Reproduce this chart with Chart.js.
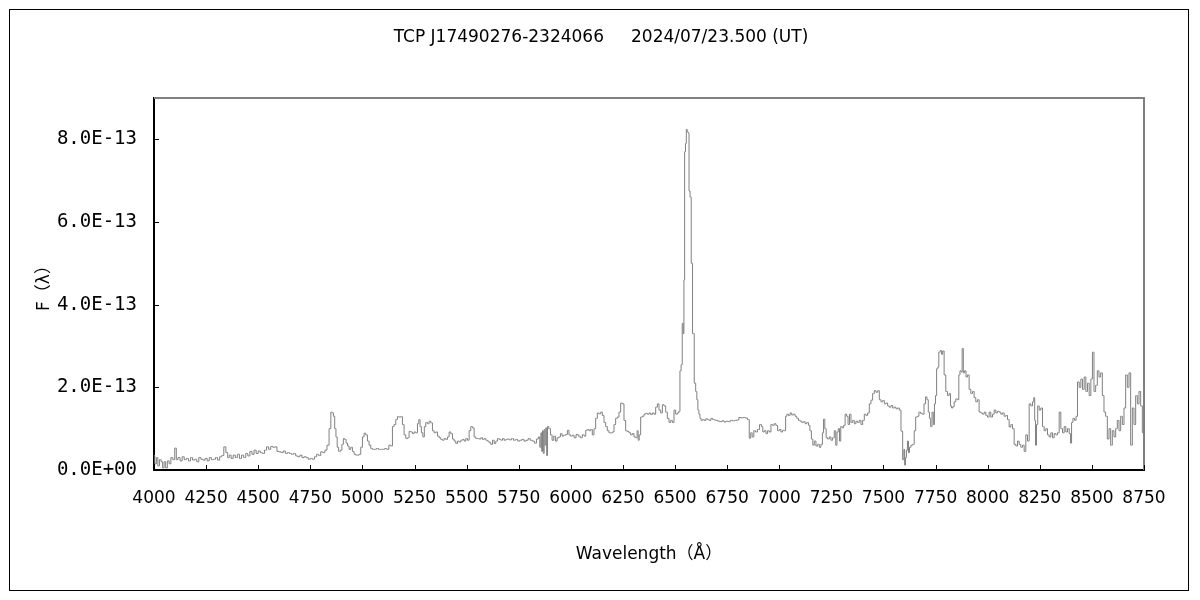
<!DOCTYPE html>
<html>
<head>
<meta charset="utf-8">
<script src="https://cdn.jsdelivr.net/npm/chart.js@4"></script>
<style>
  html, body { margin: 0; padding: 0; background: #fff; }
</style>
</head>
<body>
<canvas id="specChart" width="1200" height="600"></canvas>
<script>
// spectrum, flux in units of 1E-13
const wavelength = [
  4000,4008,4015,4022,4030,4038,4045,4052,4060,4068,4077,4085,4095,4104,4110,4120,4130,4140,4150,4160,
  4170,4180,4190,4200,4210,4220,4230,4240,4250,4260,4270,4280,4290,4300,4310,4320,4330,4340,4350,4357,
  4365,4375,4385,4395,4405,4415,4425,4435,4445,4455,4465,4475,4485,4495,4505,4515,4525,4535,4545,4555,
  4565,4575,4585,4595,4605,4615,4625,4635,4645,4655,4665,4675,4685,4695,4705,4715,4725,4735,4745,4755,
  4765,4775,4785,4795,4805,4815,4825,4835,4845,4852,4858,4864,4870,4876,4882,4890,4898,4905,4912,4918,
  4925,4932,4940,4948,4956,4964,4972,4980,4988,4996,5004,5012,5020,5028,5036,5044,5052,5062,5072,5082,
  5092,5102,5112,5122,5132,5140,5148,5156,5164,5172,5180,5188,5196,5204,5212,5220,5228,5236,5244,5252,
  5260,5268,5273,5280,5286,5294,5300,5308,5316,5324,5332,5340,5348,5356,5364,5372,5380,5388,5396,5404,
  5412,5420,5428,5436,5444,5452,5460,5468,5476,5484,5492,5500,5508,5516,5524,5532,5540,5548,5556,5564,
  5572,5580,5588,5596,5604,5612,5620,5628,5636,5644,5652,5660,5668,5676,5684,5692,5700,5710,5720,5730,
  5740,5750,5760,5770,5780,5790,5800,5810,5820,5830,5840,5848,5854,5858,5862,5866,5870,5874,5878,5882,
  5886,5890,5898,5906,5914,5922,5930,5938,5946,5954,5962,5970,5980,5987,5995,6003,6011,6020,6030,6040,
  6050,6060,6068,6075,6083,6091,6099,6107,6115,6123,6131,6139,6147,6155,6163,6171,6179,6187,6195,6203,
  6211,6219,6227,6235,6243,6251,6259,6267,6275,6283,6291,6299,6307,6315,6321,6325,6331,6339,6347,6355,
  6363,6371,6379,6387,6395,6403,6411,6419,6427,6435,6443,6451,6459,6467,6475,6483,6491,6499,6507,6515,
  6521,6526,6532,6537,6541,6544,6548,6552,6556,6561,6565,6569,6575,6580,6588,6596,6602,6607,6612,6617,
  6622,6628,6636,6644,6652,6660,6668,6676,6684,6692,6700,6710,6720,6730,6740,6750,6760,6770,6780,6790,
  6800,6812,6822,6832,6842,6852,6860,6866,6874,6882,6890,6900,6911,6918,6924,6932,6940,6948,6956,6964,
  6972,6980,6988,6996,7004,7012,7020,7028,7033,7040,7048,7056,7064,7072,7080,7088,7096,7104,7112,7120,
  7128,7136,7144,7150,7158,7164,7172,7180,7188,7196,7204,7210,7215,7222,7228,7236,7244,7252,7260,7268,
  7274,7280,7286,7292,7298,7306,7312,7320,7326,7334,7340,7348,7356,7364,7372,7380,7388,7396,7404,7412,
  7420,7428,7436,7444,7452,7460,7468,7476,7484,7492,7500,7508,7516,7524,7532,7540,7548,7556,7564,7572,
  7580,7588,7596,7600,7603,7608,7612,7618,7622,7628,7636,7644,7651,7658,7666,7674,7682,7690,7699,7705,
  7712,7718,7723,7730,7736,7742,7747,7752,7758,7763,7768,7775,7781,7787,7795,7803,7811,7819,7824,7830,
  7835,7843,7851,7859,7864,7870,7875,7880,7886,7892,7900,7907,7915,7923,7931,7939,7947,7955,7963,7971,
  7979,7987,7995,8003,8011,8019,8027,8035,8043,8051,8059,8067,8075,8083,8091,8099,8107,8115,8123,8131,
  8139,8147,8155,8163,8171,8179,8187,8195,8203,8211,8219,8223,8228,8231,8237,8243,8251,8259,8267,8275,
  8283,8291,8299,8307,8315,8323,8331,8339,8347,8355,8363,8371,8379,8387,8395,8400,8405,8413,8421,8427,
  8435,8443,8451,8459,8467,8475,8483,8491,8499,8506,8514,8522,8530,8538,8546,8554,8562,8570,8578,8586,
  8594,8602,8610,8618,8626,8634,8642,8650,8658,8666,8674,8682,8690,8698,8706,8714,8722,8730,8738,8746,
  8750
];
const flux = [
  0.35,0.15,0.30,0.10,0.25,0.20,0.05,0.20,0.05,0.22,0.15,0.30,0.25,0.53,0.25,0.30,0.22,0.32,0.25,0.28,
  0.22,0.30,0.24,0.26,0.20,0.30,0.26,0.24,0.28,0.22,0.30,0.25,0.26,0.30,0.24,0.32,0.35,0.56,0.42,0.30,
  0.36,0.28,0.36,0.30,0.38,0.28,0.36,0.30,0.40,0.34,0.45,0.38,0.48,0.40,0.46,0.42,0.40,0.48,0.56,0.50,
  0.57,0.55,0.56,0.45,0.44,0.42,0.46,0.40,0.42,0.40,0.38,0.40,0.34,0.32,0.36,0.30,0.32,0.30,0.26,0.28,
  0.26,0.32,0.38,0.35,0.44,0.42,0.48,0.60,1.00,1.40,1.38,1.30,1.00,0.80,0.55,0.45,0.48,0.62,0.76,0.74,
  0.65,0.58,0.50,0.55,0.45,0.38,0.36,0.36,0.38,0.55,0.80,0.89,0.85,0.70,0.60,0.52,0.50,0.50,0.52,0.50,
  0.50,0.50,0.52,0.50,0.60,0.58,1.05,1.10,1.22,1.29,1.28,1.29,1.10,0.85,0.76,0.78,0.93,0.92,0.88,0.92,
  0.90,1.12,1.22,1.05,0.90,0.80,1.05,1.15,1.12,1.18,1.14,0.95,0.90,0.92,0.82,0.78,0.74,0.72,0.76,0.74,
  0.80,0.92,0.88,0.75,0.70,0.64,0.70,0.68,0.72,0.74,0.70,0.76,0.72,0.95,1.05,1.02,0.80,0.76,0.76,0.75,
  0.78,0.74,0.76,0.72,0.70,0.66,0.62,0.72,0.64,0.70,0.76,0.74,0.72,0.76,0.72,0.74,0.75,0.73,0.76,0.72,
  0.74,0.70,0.72,0.74,0.70,0.72,0.76,0.72,0.70,0.65,0.75,0.80,0.55,0.90,0.45,0.95,0.40,0.98,0.60,1.02,
  0.35,1.05,1.00,0.85,0.72,0.82,0.70,0.78,0.80,0.88,0.82,0.84,0.86,0.96,0.85,0.82,0.84,0.78,0.86,0.82,
  0.78,0.85,0.82,0.96,0.98,0.95,0.98,0.85,1.00,1.25,1.38,1.36,1.40,1.32,1.15,1.05,0.95,0.90,0.90,0.92,
  1.10,1.25,1.28,1.40,1.62,1.60,1.20,0.95,0.93,0.90,0.85,0.88,0.80,0.78,0.95,0.72,0.85,1.28,1.30,1.35,
  1.37,1.35,1.38,1.34,1.38,1.35,1.52,1.60,1.45,1.38,1.58,1.55,1.40,1.25,1.15,1.20,1.15,1.45,1.35,1.38,
  1.42,2.40,2.55,3.55,3.30,4.60,7.70,7.90,8.24,8.18,8.15,6.75,6.60,5.00,3.30,2.10,1.90,1.70,1.45,1.35,
  1.25,1.20,1.22,1.20,1.24,1.22,1.20,1.25,1.22,1.21,1.20,1.18,1.17,1.19,1.16,1.18,1.17,1.20,1.19,1.20,
  1.21,1.27,1.26,1.27,1.26,1.22,0.77,0.90,0.80,0.95,0.92,0.98,1.10,1.05,0.92,0.95,0.88,0.95,0.92,1.10,
  1.08,1.12,1.08,0.95,0.98,0.92,0.96,0.95,1.30,1.35,1.32,1.38,1.33,1.35,1.30,1.25,1.20,1.18,1.15,1.17,
  1.12,1.15,1.08,0.95,0.75,0.60,0.70,0.58,0.62,0.55,0.62,0.90,1.23,1.00,0.78,0.75,0.80,0.72,0.78,0.95,
  0.60,0.92,1.00,0.70,1.05,1.02,1.08,1.35,1.30,1.10,1.35,1.15,1.20,1.12,1.18,1.15,1.20,1.10,1.20,1.35,
  1.32,1.38,1.60,1.69,1.85,1.92,1.88,1.92,1.70,1.65,1.68,1.60,1.62,1.55,1.52,1.56,1.50,1.52,1.48,1.50,
  1.45,0.94,0.25,0.50,0.12,0.30,0.48,0.70,0.42,0.55,0.60,0.62,0.95,1.28,1.30,1.40,1.37,1.35,1.60,1.77,
  1.70,1.40,1.25,1.05,1.40,1.10,1.60,1.80,2.45,2.49,2.85,2.89,2.80,2.88,2.30,1.90,1.80,1.85,1.55,1.50,
  1.53,1.65,1.72,1.70,2.30,2.40,2.37,2.94,2.35,2.40,2.25,2.30,1.95,1.85,1.90,1.75,1.65,1.70,1.40,1.38,
  1.35,1.40,1.32,1.28,1.40,1.28,1.35,1.45,1.38,1.42,1.40,1.35,1.38,1.30,1.32,1.22,1.04,1.10,1.00,0.62,
  0.58,0.70,0.62,0.55,0.60,0.45,0.85,0.70,1.60,1.55,1.65,1.75,1.20,0.60,1.10,1.55,1.45,1.50,1.05,0.95,
  1.00,0.85,0.80,0.90,0.78,0.88,0.85,0.90,1.40,1.00,0.90,1.05,0.92,1.00,0.88,0.65,1.15,1.25,1.20,1.30,
  2.13,2.00,2.20,1.95,2.25,1.90,2.10,1.80,2.20,2.85,1.90,2.05,2.40,2.25,2.35,1.80,1.40,1.30,0.75,1.00,
  0.60,0.95,0.80,1.00,1.20,0.95,1.30,1.10,1.50,2.30,2.00,2.35,0.60,1.50,1.10,1.80,1.60,1.90,1.55,0.90,
  0.85
];
const xTicks = { min: 4000, max: 8750, step: 250 };
const yTicks = { min: 0, max: 9, step: 2 };

const titleText = 'TCP J17490276-2324066     2024/07/23.500 (UT)';
const xTitle = 'Wavelength（Å）';
const yTitle = 'F（λ）';
const fontFamily = '"DejaVu Sans", "Noto Sans CJK JP", sans-serif';

const points = wavelength.map((w, i) => ({ x: w, y: flux[i] }));

// frame, titles and inward tick marks like the spreadsheet chart
const decor = {
    id: 'decor',
    afterDraw(chart) {
        const c = chart.ctx;
        const a = chart.chartArea;
        const xs = chart.scales.x, ys = chart.scales.y;
        c.save();
        // outer frame
        c.strokeStyle = '#000';
        c.lineWidth = 1;
        c.strokeRect(9.5, 9.5, 1179, 581);
        // grey top and right edge of plot
        c.strokeStyle = '#808080';
        c.lineWidth = 2;
        c.beginPath();
        c.moveTo(a.left, a.top);
        c.lineTo(a.right, a.top);
        c.lineTo(a.right, a.bottom);
        c.stroke();
        // inward ticks
        c.strokeStyle = '#000';
        c.lineWidth = 1;
        c.beginPath();
        xs.ticks.forEach(t => {
            const px = Math.round(xs.getPixelForValue(t.value)) + 0.5;
            c.moveTo(px, a.bottom);
            c.lineTo(px, a.bottom - 5);
        });
        ys.ticks.forEach(t => {
            if (t.value % yTicks.step !== 0 || t.value === 0) return;
            const py = Math.round(ys.getPixelForValue(t.value)) + 0.5;
            c.moveTo(a.left, py);
            c.lineTo(a.left + 5, py);
        });
        c.stroke();
        // texts
        c.fillStyle = '#000';
        c.font = '17px ' + fontFamily;
        c.textAlign = 'center';
        c.textBaseline = 'middle';
        c.fillText(titleText, 601, 38);
        c.fillText(xTitle, (a.left + a.right) / 2, 555);
        c.translate(45, (a.top + a.bottom) / 2);
        c.rotate(-Math.PI / 2);
        c.fillText(yTitle, 0, 0);
        c.restore();
    }
};

var ctx = document.getElementById('specChart').getContext('2d');
var myChart = new Chart(ctx, {
    type: 'line',
    data: {
        datasets: [{
            data: points,
            borderColor: '#808080',
            borderWidth: 1,
            pointRadius: 0,
            stepped: 'middle',
            fill: false
        }]
    },
    options: {
        responsive: false,
        animation: false,
        devicePixelRatio: 1,
        layout: { padding: { left: 0, top: 98, right: 56, bottom: 0 } },
        plugins: { legend: { display: false }, tooltip: { enabled: false } },
        scales: {
            x: {
                type: 'linear',
                min: xTicks.min,
                max: xTicks.max,
                afterFit(scale) { scale.height = 130; },
                grid: { display: false, drawTicks: false },
                border: { display: true, color: '#000', width: 2 },
                ticks: {
                    stepSize: xTicks.step,
                    padding: 18,
                    color: '#000',
                    maxRotation: 0,
                    autoSkip: false,
                    font: { family: fontFamily, size: 17 },
                    callback: v => String(v)
                }
            },
            y: {
                min: yTicks.min,
                max: yTicks.max,
                afterFit(scale) { scale.width = 154; },
                grid: { display: false, drawTicks: false },
                border: { display: true, color: '#000', width: 2 },
                ticks: {
                    stepSize: yTicks.step,
                    padding: 17,
                    color: '#000',
                    font: { family: '"DejaVu Sans Mono", monospace', size: 19 },
                    callback: function (v) {
                        if (v % yTicks.step !== 0) return null;
                        return v === 0 ? '0.0E+00' : v.toFixed(1) + 'E-13';
                    }
                }
            }
        }
    },
    plugins: [decor]
});
</script>
</body>
</html>
